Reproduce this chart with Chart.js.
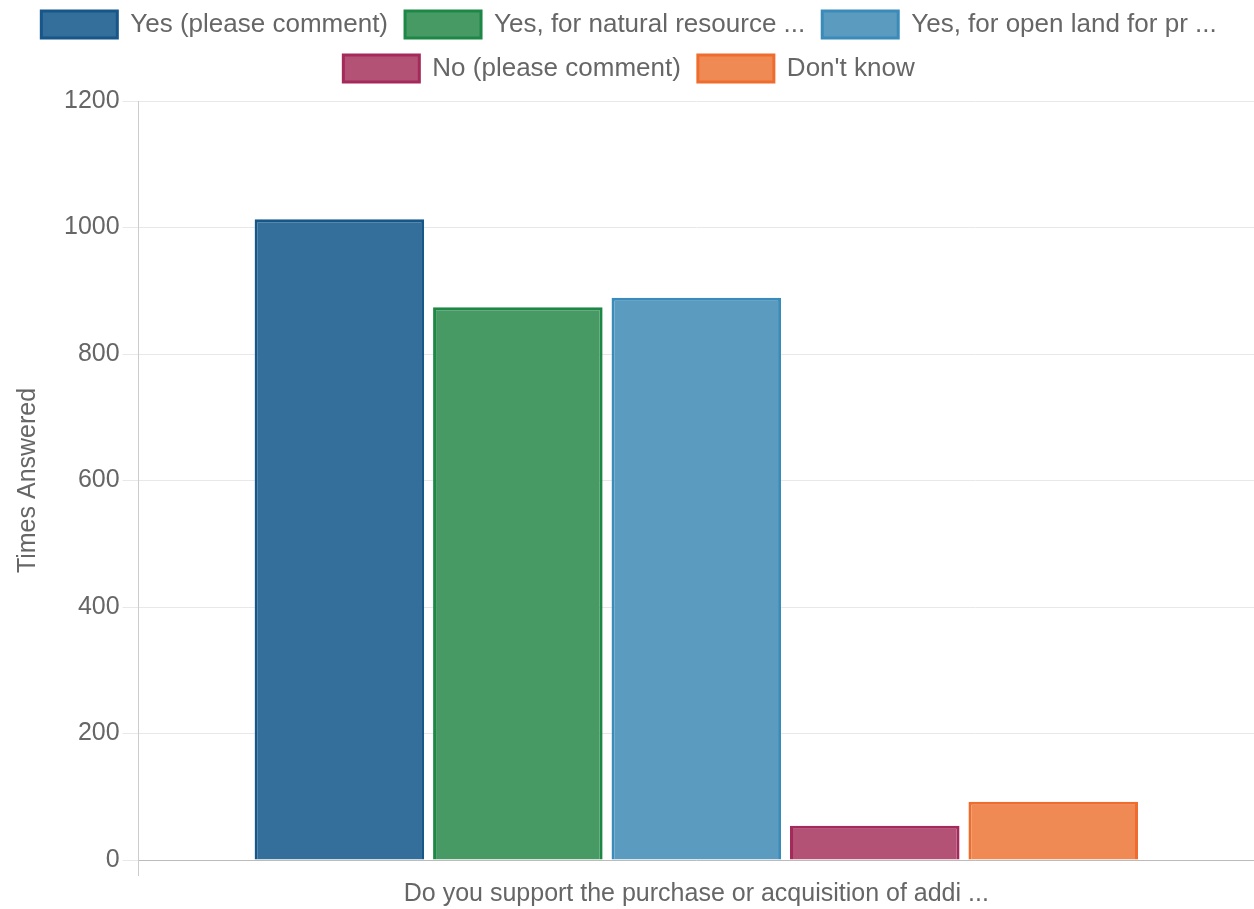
<!DOCTYPE html>
<html><head><meta charset="utf-8">
<script src="https://cdn.jsdelivr.net/npm/chart.js@4/dist/chart.umd.min.js"></script>
<style>html,body{margin:0;padding:0;background:#fff}#w{width:1254px;height:909px}</style>
</head><body><div id="w"><canvas id="c"></canvas></div>
<script>
const categories = ["Do you support the purchase or acquisition of addi ..."];
const seriesNames = ["Yes (please comment)", "Yes, for natural resource ...", "Yes, for open land for pr ...", "No (please comment)", "Don't know"];
const yesComment = [1013];
const yesNatural = [874];
const yesOpenLand = [889];
const noComment = [54];
const dontKnow = [92];
const fills = ["#336f9a", "#489a65", "#5b9bbf", "#b35274", "#ef8a55"];
const borders = ["#175689", "#1d8846", "#3a8bb9", "#a32a5b", "#ef6c2f"];
const values = [yesComment, yesNatural, yesOpenLand, noComment, dontKnow];
const FONT = "'Liberation Sans', Arial, sans-serif";
const legendGap = {
  id: 'legendGap',
  beforeInit(chart) {
    const orig = chart.legend.fit;
    chart.legend.fit = function () { orig.call(this); this.height += 9; };
  }
};
new Chart(document.getElementById('c'), {
  type: 'bar',
  data: {
    labels: categories,
    datasets: seriesNames.map((n, i) => ({
      label: n, data: values[i], backgroundColor: fills[i], borderColor: borders[i], borderWidth: 3,
      categoryPercentage: 0.8, barPercentage: 0.95
    }))
  },
  plugins: [legendGap],
  options: {
    responsive: true, maintainAspectRatio: false, animation: false,
    devicePixelRatio: 1,
    layout: { padding: { left: 0, right: -4, top: -6, bottom: -3 } },
    plugins: {
      legend: {
        position: 'top',
        labels: { boxWidth: 76, boxHeight: 27, padding: 17, color: '#666', font: { family: FONT, size: 26 } }
      },
      tooltip: { enabled: false }
    },
    scales: {
      x: {
        grid: { drawOnChartArea: false, color: '#ccc', tickLength: 16 },
        border: { color: '#bbb' },
        ticks: { color: '#666', font: { family: FONT, size: 25 } }
      },
      y: {
        min: 0, max: 1200,
        ticks: { stepSize: 200, color: '#666', font: { family: FONT, size: 25 }, padding: 3, callback: v => String(v) },
        grid: { color: '#e8e8e8', tickLength: 16 },
        border: { color: '#ccc' },
        title: { display: true, text: 'Times Answered', color: '#666', font: { family: FONT, size: 25 }, padding: { top: 13, bottom: 18 } }
      }
    }
  }
});
</script></body></html>
